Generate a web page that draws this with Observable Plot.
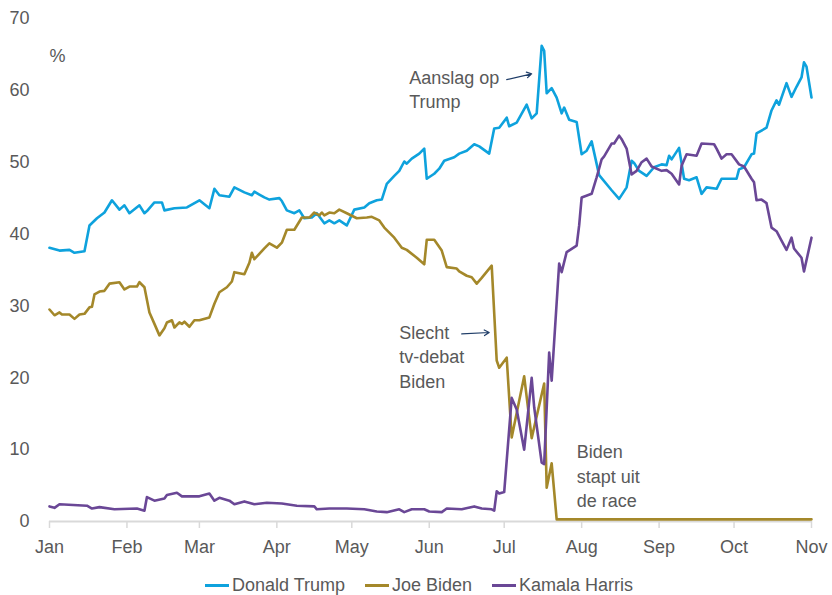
<!DOCTYPE html>
<html>
<head>
<meta charset="utf-8">
<script src="https://cdn.jsdelivr.net/npm/d3@7"></script>
<script src="https://cdn.jsdelivr.net/npm/@observablehq/plot@0.6"></script>
<style>
  body { margin: 0; background: #fff; font-family: "Liberation Sans", Arial, sans-serif; }
  #chart { width: 832px; }
  .legend { display: flex; justify-content: center; align-items: center; gap: 20px; height: 30px; margin-top: 10px; padding-left: 6px; font-size: 18px; color: #595959; }
  .legend .item { display: flex; align-items: center; gap: 3px; }
  .legend .sw { width: 24px; height: 3px; display: inline-block; }
</style>
</head>
<body>
<div id="chart"></div>
<script>
// ---- Data ----
const seriesNames = ["Donald Trump", "Joe Biden", "Kamala Harris"];
const seriesColors = ["#0ea2dd", "#a4882a", "#6a4796"];

const trumpDates = ["01-01","01-05","01-09","01-11","01-15","01-17","01-20","01-23","01-26","01-29","01-31","02-02","02-06","02-08","02-09","02-12","02-15","02-16","02-20","02-25","03-01","03-05","03-07","03-09","03-13","03-15","03-19","03-22","03-23","03-25","03-27","03-29","04-02","04-03","04-05","04-08","04-10","04-12","04-15","04-17","04-20","04-22","04-24","04-26","04-29","05-02","05-06","05-08","05-11","05-13","05-15","05-18","05-20","05-22","05-23","05-25","05-28","05-30","05-31","06-03","06-05","06-07","06-11","06-13","06-16","06-19","06-21","06-25","06-27","06-29","07-02","07-03","07-06","07-10","07-12","07-14","07-16","07-17","07-18","07-20","07-22","07-24","07-25","07-27","07-30","08-01","08-03","08-05","08-08","08-13","08-16","08-19","08-21","08-22","08-24","08-27","08-30","09-02","09-04","09-05","09-06","09-09","09-11","09-13","09-16","09-18","09-20","09-24","09-26","10-02","10-03","10-05","10-08","10-09","10-10","10-14","10-16","10-18","10-19","10-22","10-24","10-26","10-28","10-29","10-30","11-01"];
const trumpValues = [38.1,37.7,37.8,37.4,37.6,41.2,42.2,43.0,44.7,43.4,44.0,42.9,44.0,42.9,43.2,44.4,44.4,43.3,43.6,43.7,44.7,43.6,46.3,45.4,45.2,46.5,45.8,45.4,45.9,45.5,45.1,44.8,45.0,44.6,43.3,42.9,43.3,42.2,42.3,42.9,41.5,41.9,41.5,41.9,41.2,43.4,43.7,44.3,44.7,44.8,47.0,48.1,48.8,50.1,49.8,50.5,51.2,51.9,47.7,48.4,49.1,50.2,50.7,51.2,51.6,52.5,52.2,51.2,54.7,54.8,56.2,55.0,55.5,58.0,56.1,56.8,66.2,65.5,59.6,60.3,59.0,56.8,57.6,55.9,55.6,51.1,51.6,52.9,48.2,46.1,44.9,46.5,50.2,49.9,48.8,48.1,49.3,49.7,49.6,50.9,50.4,52.0,47.7,47.5,47.9,45.6,46.5,46.3,47.7,47.7,49.0,49.3,51.1,51.2,54.0,54.8,57.2,58.6,58.0,61.0,59.1,60.5,61.8,63.9,63.3,59.0];

const bidenDates = ["01-01","01-03","01-05","01-06","01-09","01-11","01-13","01-15","01-17","01-18","01-19","01-21","01-23","01-25","01-29","01-31","02-02","02-05","02-06","02-08","02-10","02-12","02-14","02-16","02-17","02-19","02-20","02-22","02-23","02-24","02-26","02-28","03-01","03-05","03-07","03-09","03-12","03-14","03-15","03-19","03-21","03-22","03-23","03-27","03-29","04-01","04-03","04-05","04-08","04-11","04-14","04-16","04-18","04-19","04-20","04-22","04-24","04-26","04-29","05-03","05-07","05-09","05-12","05-14","05-18","05-21","05-23","05-27","05-30","05-31","06-03","06-06","06-08","06-12","06-13","06-16","06-18","06-20","06-22","06-26","06-28","06-29","07-02","07-04","07-09","07-12","07-17","07-18","07-20","07-22","08-15","09-15","10-15","11-01"];
const bidenValues = [29.5,28.7,29.1,28.8,28.8,28.2,28.8,28.9,29.8,29.9,31.6,32.0,32.1,33.1,33.3,32.3,32.7,32.7,33.3,32.6,29.1,27.5,25.9,26.9,27.7,28.0,27.0,27.7,27.5,27.8,27.1,28.0,28.0,28.4,30.3,31.9,32.6,33.4,34.7,34.4,36.0,37.4,36.5,38.0,38.7,38.1,38.8,40.6,40.6,42.3,42.3,43.0,42.6,43.0,42.6,43.0,42.9,43.4,42.9,42.2,42.3,42.4,41.9,40.9,39.5,38.1,37.8,36.7,35.8,39.2,39.2,37.7,35.4,35.2,34.8,34.2,34.0,33.1,33.9,35.6,22.4,21.4,22.8,11.7,20.2,11.6,19.2,4.7,8.1,0.3,0.3,0.3,0.3,0.3];

const harrisDates = ["01-01","01-03","01-05","01-16","01-18","01-21","01-27","02-05","02-08","02-09","02-12","02-16","02-17","02-21","02-23","03-01","03-05","03-07","03-09","03-13","03-15","03-19","03-23","03-28","04-03","04-09","04-16","04-17","04-22","04-29","05-06","05-11","05-15","05-20","05-22","05-25","05-30","06-01","06-06","06-08","06-14","06-19","06-22","06-26","06-27","06-28","06-29","07-01","07-04","07-06","07-09","07-12","07-13","07-16","07-17","07-19","07-20","07-23","07-24","07-26","07-30","07-31","08-01","08-05","08-07","08-09","08-10","08-13","08-14","08-16","08-17","08-19","08-21","08-23","08-25","08-27","08-29","09-02","09-04","09-06","09-09","09-10","09-12","09-16","09-18","09-23","09-24","09-26","09-28","09-30","10-03","10-05","10-08","10-09","10-10","10-12","10-14","10-16","10-18","10-20","10-22","10-24","10-25","10-28","10-29","11-01"];
const harrisValues = [2.1,1.9,2.4,2.2,1.8,2.0,1.7,1.8,1.5,3.4,2.9,3.2,3.7,4.0,3.5,3.5,3.9,2.9,3.3,2.9,2.4,2.8,2.4,2.6,2.5,2.2,2.1,1.7,1.8,1.8,1.7,1.4,1.3,1.7,1.3,1.7,1.7,1.4,1.3,1.8,1.7,2.1,1.8,1.7,1.5,4.2,3.9,4.1,17.2,15.6,10.0,20.0,15.9,8.2,8.0,23.5,19.6,35.9,34.7,37.5,38.4,41.2,45.1,45.6,47.9,50.4,50.8,52.6,52.6,53.7,53.2,51.9,48.3,48.8,50.0,50.5,49.4,48.8,48.9,48.4,46.9,49.5,51.1,50.9,52.6,52.5,51.9,50.5,51.1,51.1,49.7,49.4,47.7,47.2,44.7,44.8,44.3,40.9,40.4,39.1,37.8,39.5,38.0,36.7,34.8,39.5];

const yTicks = [0, 10, 20, 30, 40, 50, 60, 70];
const monthLabels = ["Jan","Feb","Mar","Apr","May","Jun","Jul","Aug","Sep","Oct","Nov"];
const monthStarts = ["01-01","02-01","03-01","04-01","05-01","06-01","07-01","08-01","09-01","10-01","11-01"];
const unitLabel = "%";

const notes = [
  {date: "05-24", value: 60.3, text: "Aanslag op\nTrump"},
  {date: "05-20", value: 23.1, text: "Slecht\ntv-debat\nBiden"},
  {date: "07-30", value: 6.5, text: "Biden\nstapt uit\nde race"}
];
const arrows = [
  {d1: "07-02", v1: 61.5, d2: "07-12", v2: 62.3},
  {d1: "06-14", v1: 26.1, d2: "06-25", v2: 26.3}
];

// ---- Build ----
const parse = s => d3.utcParse("%Y-%m-%d")("2024-" + s);
const build = (name, ds, vs) => ds.map((d, i) => ({name, date: parse(d), value: vs[i]}));
const rows = [
  ...build(seriesNames[0], trumpDates, trumpValues),
  ...build(seriesNames[1], bidenDates, bidenValues),
  ...build(seriesNames[2], harrisDates, harrisValues)
];
const tickDates = monthStarts.map(parse);
const fmt = d => monthLabels[tickDates.findIndex(t => +t === +d)];
const textColor = "#595959";
const font = "Liberation Sans, Arial, sans-serif";

const chart = Plot.plot({
  width: 832,
  height: 560,
  marginLeft: 49,
  marginRight: 21,
  marginTop: 18,
  marginBottom: 39,
  style: {fontFamily: font, fontSize: "18px", color: textColor, background: "#fff"},
  x: {type: "utc", domain: [parse("01-01"), parse("11-01")]},
  y: {domain: [0, 70]},
  color: {domain: seriesNames, range: seriesColors},
  marks: [
    Plot.axisY({ticks: yTicks, tickSize: 0, tickPadding: 20, fontSize: 18, fill: textColor, label: null}),
    Plot.axisX({ticks: tickDates, tickFormat: fmt, tickSize: 7, stroke: "#d9d9d9", strokeWidth: 1.5, tickPadding: 12, fontSize: 18, fill: textColor, label: null}),
    Plot.ruleY([0], {x1: parse("01-01"), x2: parse("11-01"), stroke: "#d9d9d9", strokeWidth: 2}),
    Plot.line(rows, {x: "date", y: "value", z: "name", stroke: "name", strokeWidth: 2.6, strokeLinejoin: "round"}),
    Plot.text([unitLabel], {x: parse("01-01"), y: 64.8, text: d => d, textAnchor: "start", fontSize: 18, fill: textColor}),
    Plot.text(notes, {x: d => parse(d.date), y: "value", text: "text", textAnchor: "start", lineAnchor: "middle", lineHeight: 1.36, fontSize: 18, fill: textColor}),
    Plot.arrow(arrows, {x1: d => parse(d.d1), y1: "v1", x2: d => parse(d.d2), y2: "v2", stroke: "#1f3d68", strokeWidth: 1.2, headLength: 7})
  ]
});
document.getElementById("chart").appendChild(chart);

const legend = document.createElement("div");
legend.className = "legend";
seriesNames.forEach((n, i) => {
  const it = document.createElement("span");
  it.className = "item";
  const sw = document.createElement("span");
  sw.className = "sw";
  sw.style.background = seriesColors[i];
  const tx = document.createElement("span");
  tx.textContent = n;
  it.appendChild(sw); it.appendChild(tx);
  legend.appendChild(it);
});
document.getElementById("chart").appendChild(legend);
</script>
</body>
</html>
